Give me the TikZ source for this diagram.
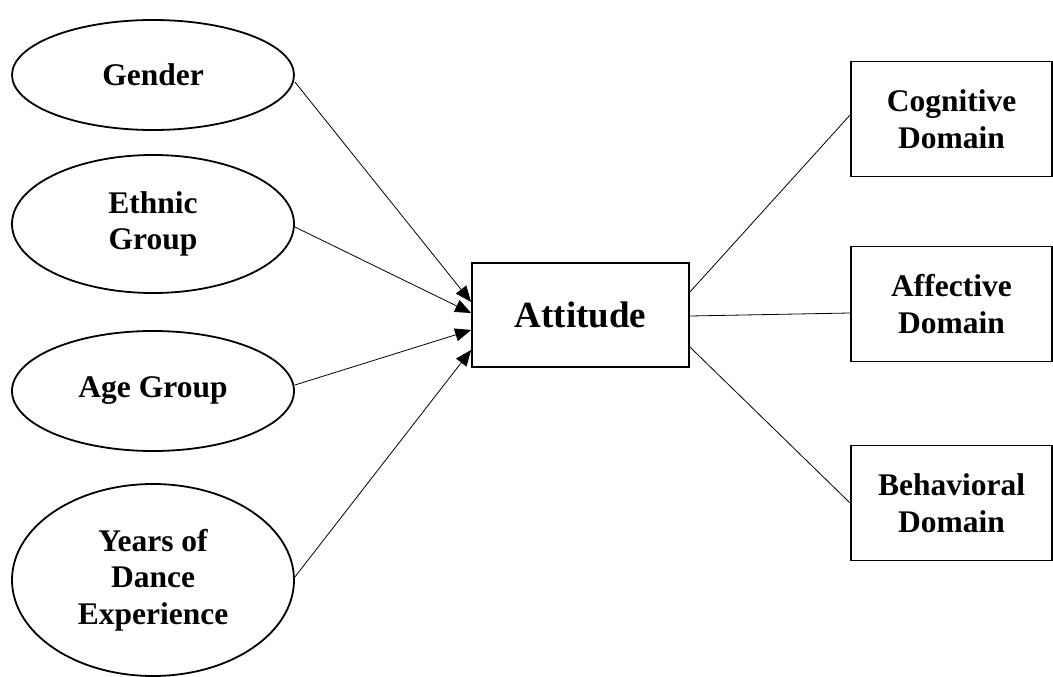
\documentclass[tikz,border=0pt]{standalone}
\usepackage{fontspec}
\setmainfont{Liberation Serif}
\usetikzlibrary{shapes.geometric,arrows.meta,calc}
\begin{document}
\begin{tikzpicture}[x=1pt,y=-1pt,
  factor/.style={ellipse,draw,line width=1.8pt,inner sep=0pt,minimum width=282pt,
    font=\bfseries\fontsize{31.5}{36.5}\selectfont,align=center},
  domainbox/.style={rectangle,draw,line width=1.8pt,inner sep=0pt,minimum width=201pt,
    minimum height=115pt,font=\bfseries\fontsize{31.5}{36.5}\selectfont,align=center},
  link/.style={line width=0.8pt},
  arr/.style={line width=0.8pt,-{Triangle[length=16pt,width=13pt]}}]
\useasboundingbox (0,0) rectangle (1053,677);
\node[factor,minimum height=110pt] (gen) at (153,75) {Gender};
\node[factor,minimum height=138pt] (eth) at (153,224) {Ethnic\\Group};
\node[factor,minimum height=120pt] (age) at (153,391) {Age Group};
\node[factor,minimum height=192pt] (yrs) at (153,580) {Years of\\Dance\\Experience};
\node[rectangle,draw,line width=1.8pt,minimum width=217pt,minimum height=104pt,
  font=\bfseries\fontsize{37}{42}\selectfont] (att) at (580.5,315) {Attitude};
\node[domainbox] (cog) at (951.5,119) {Cognitive\\Domain};
\node[domainbox] (aff) at (951.5,304) {Affective\\Domain};
\node[domainbox] (beh) at (951.5,503) {Behavioral\\Domain};
\draw[arr] ([yshift=-7pt]gen.east) -- ([yshift=13pt]att.west);
\draw[arr] ([yshift=-3pt]eth.east) -- ([yshift=2pt]att.west);
\draw[arr] ([yshift=6pt]age.east) -- ([yshift=-15pt]att.west);
\draw[arr] ([yshift=3pt]yrs.east) -- ([yshift=-35pt]att.west);
\draw[link] ([yshift=23pt]att.east) -- ([yshift=4pt]cog.west);
\draw[link] ([yshift=-1pt]att.east) -- ([yshift=-9pt]aff.west);
\draw[link] ([yshift=-32pt]att.east) -- (beh.west);
\end{tikzpicture}
\end{document}
